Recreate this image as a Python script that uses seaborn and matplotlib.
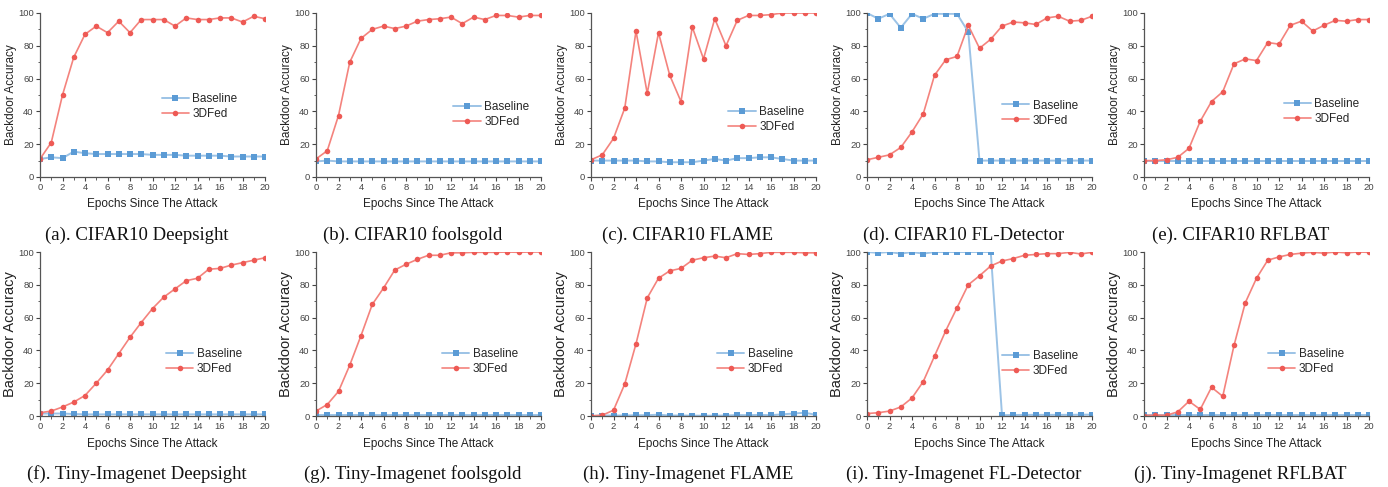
import numpy as np
import pandas as pd
import matplotlib
matplotlib.use("Agg")
import matplotlib.pyplot as plt
import seaborn as sns
from matplotlib.ticker import MultipleLocator

epochs = list(range(21))

# row 1: CIFAR10
c10_deepsight_base = [11, 12, 11.5, 15.5, 14.5, 14, 14, 14, 14, 14, 13.5, 13.5, 13.5, 13, 13, 13, 13, 12.5, 12.5, 12.5, 12.5]
c10_deepsight_3df = [11, 21, 50, 73, 87, 92, 88, 95, 88, 96, 96, 96, 92, 97, 96, 96, 97, 97, 94.5, 98, 96.5]
c10_foolsgold_base = [9.5, 10, 9.5, 9.5, 9.5, 9.5, 9.5, 9.5, 9.5, 9.5, 9.5, 9.5, 9.5, 9.5, 9.5, 9.5, 9.5, 9.5, 9.5, 9.5, 9.5]
c10_foolsgold_3df = [11, 16, 37.5, 70, 84.5, 90, 92, 90.5, 92, 95, 96, 96.5, 97.5, 93.5, 97.5, 96, 98.5, 98.5, 97.5, 98.5, 98.5]
c10_flame_base = [10, 10, 10, 10, 10, 9.5, 9.5, 9, 9, 9, 10, 11, 10, 11.5, 11.5, 12, 12, 11, 10, 10, 10]
c10_flame_3df = [10.5, 13.5, 23.5, 42, 89, 51, 88, 62, 46, 91.5, 72, 96.5, 80, 95.5, 98.5, 98.5, 99, 100, 100, 100, 100]
c10_fld_base = [100, 96.5, 99.5, 91, 99.5, 96.5, 99.5, 99.5, 99.5, 88.5, 10, 10, 10, 10, 10, 10, 10, 10, 10, 10, 10]
c10_fld_3df = [10.5, 12, 13.5, 18, 27.5, 38.5, 62, 71.5, 73.5, 92.5, 78.5, 84, 92, 94.5, 94, 93, 97, 98, 95, 95.5, 98]
c10_rflbat_base = [10, 10, 10, 10, 10, 10, 10, 10, 10, 10, 10, 10, 10, 10, 10, 10, 10, 10, 10, 10, 10]
c10_rflbat_3df = [10, 10, 10.5, 12, 17.5, 34, 46, 52, 69, 72, 71, 82, 81, 92.5, 95, 89, 92.5, 95.5, 95, 96, 96]

# row 2: Tiny-Imagenet
ti_deepsight_base = [1.5, 1.5, 1.5, 1.2, 1, 1, 1, 1, 1, 1, 1, 1, 1, 1, 1, 1, 1, 1, 1, 1, 1]
ti_deepsight_3df = [2, 3, 5.5, 8.5, 12.5, 20, 28, 38, 48, 57, 65.5, 72.5, 77.5, 82.5, 84, 89.5, 90, 92, 93.5, 95, 96.5]
ti_foolsgold_base = [0.8] * 21
ti_foolsgold_3df = [3, 7, 15, 31, 49, 68, 78, 89, 92.5, 95.5, 98, 98, 99.5, 99.5, 99.8, 99.8, 99.8, 100, 99.8, 100, 100]
ti_flame_base = [0, 0.3, 0.3, 0.3, 0.5, 0.5, 0.8, 0.3, 0.3, 0.2, 0.2, 0.2, 0.3, 0.6, 0.5, 0.7, 0.5, 1.0, 1.5, 2, 0.7]
ti_flame_3df = [0, 0.5, 3.5, 19.5, 44, 72, 84, 88.5, 90, 95, 96.5, 97.5, 96.5, 99, 98.5, 99, 99.8, 99.8, 99.8, 99.5, 99.5]
ti_fld_base = [100, 99.5, 100, 99, 100, 99, 100, 100, 100, 100, 100, 100, 0.5, 0.6, 0.7, 0.7, 0.7, 0.7, 0.7, 0.8, 0.8]
ti_fld_3df = [1.5, 2, 3, 5.5, 11, 21, 36.5, 52, 66, 80, 85.5, 91.5, 94.5, 96, 98, 98.5, 99, 99, 99.8, 98.8, 99.8]
ti_rflbat_base = [0.8] * 21
ti_rflbat_3df = [0.3, 0.5, 0.5, 2.5, 9, 4, 17.5, 12, 43, 69, 84, 95, 97, 98.5, 99.3, 99.8, 99.3, 100, 99.5, 100, 99.8]

captions = ["(a). CIFAR10 Deepsight", "(b). CIFAR10 foolsgold", "(c). CIFAR10 FLAME",
            "(d). CIFAR10 FL-Detector", "(e). CIFAR10 RFLBAT",
            "(f). Tiny-Imagenet Deepsight", "(g). Tiny-Imagenet foolsgold", "(h). Tiny-Imagenet FLAME",
            "(i). Tiny-Imagenet FL-Detector", "(j). Tiny-Imagenet RFLBAT"]

panels = [
    (c10_deepsight_base, c10_deepsight_3df), (c10_foolsgold_base, c10_foolsgold_3df),
    (c10_flame_base, c10_flame_3df), (c10_fld_base, c10_fld_3df), (c10_rflbat_base, c10_rflbat_3df),
    (ti_deepsight_base, ti_deepsight_3df), (ti_foolsgold_base, ti_foolsgold_3df),
    (ti_flame_base, ti_flame_3df), (ti_fld_base, ti_fld_3df), (ti_rflbat_base, ti_rflbat_3df),
]

# legend anchor (x of handle, y of middle) per panel, axes fraction
leg_pos = [(0.55, 0.43), (0.62, 0.38), (0.62, 0.35), (0.61, 0.39), (0.63, 0.40),
           (0.57, 0.33), (0.57, 0.33), (0.57, 0.33), (0.61, 0.32), (0.56, 0.33)]

sns.set_style("white")
plt.rcParams['font.family'] = ['Liberation Sans', 'DejaVu Sans']

fig = plt.figure(figsize=(13.88, 4.87), dpi=100)
W, H = 1388, 487
lefts = [40, 316, 591, 867, 1144]
bottoms = [177, 416]
aw, ah = 225, 164

blue_line, blue_mk = '#9CC3E6', '#5B9BD5'
red_line, red_mk = '#F4837D', '#EE5A55'

for i, (base, fed) in enumerate(panels):
    row, col = divmod(i, 5)
    ax = fig.add_axes([lefts[col] / W, (H - bottoms[row]) / H, aw / W, ah / H])
    df = pd.DataFrame({'epoch': epochs, 'Baseline': base, '3DFed': fed})
    sns.lineplot(data=df, x='epoch', y='Baseline', ax=ax, color=blue_line, lw=1.4,
                 marker='s', markersize=3.8, markerfacecolor=blue_mk, markeredgewidth=0, label='Baseline')
    sns.lineplot(data=df, x='epoch', y='3DFed', ax=ax, color=red_line, lw=1.2,
                 marker='o', markersize=4, markerfacecolor=red_mk, markeredgewidth=0, label='3DFed')
    ax.set_xlim(0, 20)
    ax.set_ylim(0, 100)
    ax.xaxis.set_major_locator(MultipleLocator(2))
    ax.xaxis.set_minor_locator(MultipleLocator(1))
    ax.yaxis.set_major_locator(MultipleLocator(20))
    ax.yaxis.set_minor_locator(MultipleLocator(10))
    ax.tick_params(which='major', direction='out', length=3, width=0.8, labelsize=6.8,
                   colors='#444444', pad=1.5, bottom=True, left=True)
    ax.tick_params(which='minor', direction='out', length=1.8, width=0.6, colors='#444444',
                   bottom=True, left=True)
    for s in ['top', 'right']:
        ax.spines[s].set_visible(False)
    for s in ['left', 'bottom']:
        ax.spines[s].set_color('#555555')
        ax.spines[s].set_linewidth(0.9)
    ax.set_xlabel('Epochs Since The Attack', fontsize=8.5, color='#222222', labelpad=4.5)
    ax.set_ylabel('Backdoor Accuracy', fontsize=8.5 if row == 0 else 10.5, color='#222222', labelpad=0.5)
    lx, ly = leg_pos[i]
    ax.legend(loc='center left', bbox_to_anchor=(lx - 0.03, ly), frameon=False, fontsize=8.5,
              handlelength=2.3, handletextpad=0.3, labelspacing=0.25, borderaxespad=0)
    ax.text(0.43, -0.355, captions[i], transform=ax.transAxes, ha='center', va='center',
            fontsize=13.5, family=['Liberation Serif', 'DejaVu Serif'], color='#111111')

fig.savefig('out.png', dpi=100)
